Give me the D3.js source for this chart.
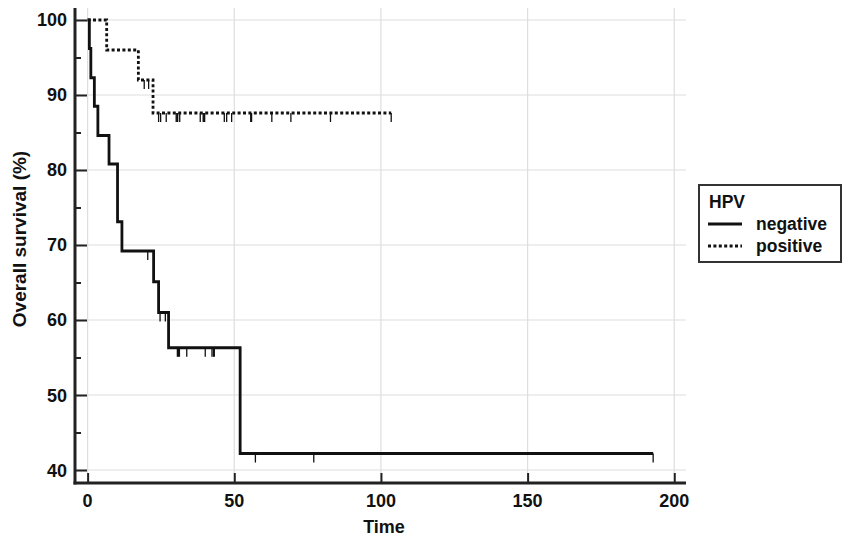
<!DOCTYPE html>
<html>
<head>
<meta charset="utf-8">
<script src="https://cdn.jsdelivr.net/npm/d3@7"></script>
<style>
  body { margin: 0; background: #fff; }
  text { font-family: "Liberation Sans", Arial, sans-serif; font-weight: bold; fill: #111; }
</style>
</head>
<body>
<div id="chart"></div>
<script>
// Kaplan-Meier steps
var negTimes = [0, 0.6, 1.1, 2.3, 3.5, 7.3, 10.2, 11.7, 22.5, 24.2, 27.6, 52.0];
var negSurv  = [100, 96.2, 92.3, 88.5, 84.6, 80.8, 73.1, 69.2, 65.1, 61.0, 56.3, 42.2];
var negEnd = 192.8;
var negCensor = [20.5, 24.7, 26.5, 30.6, 31.0, 31.3, 33.8, 40.1, 42.4, 42.9, 43.2, 57.2, 77.1, 192.8];

var posTimes = [0, 6.5, 17.3, 22.3];
var posSurv  = [100, 96.0, 92.0, 87.6];
var posEnd = 103.5;
var posCensor = [19.3, 20.8, 24.2, 24.9, 26.8, 30.2, 30.5, 30.7, 31.4, 38.4, 39.4, 39.6, 39.9,
                 46.6, 47.4, 49.1, 55.6, 55.9, 62.8, 69.3, 82.8, 103.5];

var xTicks = [0, 50, 100, 150, 200];
var yTicks = [40, 50, 60, 70, 80, 90, 100];
var yMinor = [45, 55, 65, 75, 85, 95];

var groups = ["negative", "positive"];

var W = 844, H = 536;
var svg = d3.select("#chart").append("svg").attr("width", W).attr("height", H);

var x = d3.scaleLinear().domain([-4.3, 204]).range([75, 686]);
var y = d3.scaleLinear().domain([38.27, 101.6]).range([483, 8]);

// grid
svg.append("g").selectAll("line").data(xTicks).enter().append("line")
    .attr("x1", d => x(d)).attr("x2", d => x(d))
    .attr("y1", y.range()[1]).attr("y2", y.range()[0])
    .attr("stroke", "#dedede").attr("stroke-width", 1.2);
svg.append("g").selectAll("line").data(yTicks).enter().append("line")
    .attr("x1", x.range()[0]).attr("x2", x.range()[1])
    .attr("y1", d => y(d)).attr("y2", d => y(d))
    .attr("stroke", "#dedede").attr("stroke-width", 1.2);

// axes (ticks drawn inward)
var yAxis = svg.append("g").attr("transform", "translate(" + x.range()[0] + ",0)")
    .call(d3.axisRight(y).tickValues(yTicks).tickSize(12).tickFormat(""));
var yAxisMinor = svg.append("g").attr("transform", "translate(" + x.range()[0] + ",0)")
    .call(d3.axisRight(y).tickValues(yMinor).tickSize(6).tickFormat(""));
var xAxis = svg.append("g").attr("transform", "translate(0," + y.range()[0] + ")")
    .call(d3.axisTop(x).tickValues(xTicks).tickSize(10).tickFormat(""));
[yAxis, yAxisMinor, xAxis].forEach(g => {
    g.select(".domain").remove();
    g.selectAll(".tick line").attr("stroke", "#222").attr("stroke-width", 2);
});
svg.append("line").attr("x1", x.range()[0]).attr("x2", x.range()[0])
    .attr("y1", y.range()[1]).attr("y2", y.range()[0] + 1.5)
    .attr("stroke", "#222").attr("stroke-width", 3);
svg.append("line").attr("x1", x.range()[0] - 1.5).attr("x2", x.range()[1])
    .attr("y1", y.range()[0]).attr("y2", y.range()[0])
    .attr("stroke", "#222").attr("stroke-width", 3);

// tick labels
svg.append("g").selectAll("text").data(yTicks).enter().append("text")
    .attr("x", 67).attr("y", d => y(d)).attr("dy", "0.36em")
    .attr("text-anchor", "end").attr("font-size", 18).text(d => d);
svg.append("g").selectAll("text").data(xTicks).enter().append("text")
    .attr("x", d => x(d)).attr("y", 506.5)
    .attr("text-anchor", "middle").attr("font-size", 18).text(d => d);

svg.append("text").attr("x", 384).attr("y", 533).attr("text-anchor", "middle")
    .attr("font-size", 18).text("Time");
svg.append("text").attr("transform", "translate(25.5,239) rotate(-90)")
    .attr("text-anchor", "middle").attr("font-size", 19).text("Overall survival (%)");

// curves
function stepPoints(times, surv, end) {
    var pts = times.map((t, i) => [t, surv[i]]);
    pts.push([end, surv[surv.length - 1]]);
    return pts;
}
function levelAt(times, surv, t) {
    var i = d3.bisectRight(times, t) - 1;
    return surv[Math.max(0, i)];
}
var line = d3.line().x(d => x(d[0])).y(d => y(d[1])).curve(d3.curveStepAfter);

var series = [
    { name: groups[0], times: negTimes, surv: negSurv, end: negEnd, censor: negCensor, dash: null },
    { name: groups[1], times: posTimes, surv: posSurv, end: posEnd, censor: posCensor, dash: "3,2.4" }
];

series.forEach(s => {
    svg.append("path").datum(stepPoints(s.times, s.surv, s.end))
        .attr("d", line).attr("fill", "none").attr("stroke", "#111")
        .attr("stroke-width", 2.8).attr("stroke-dasharray", s.dash);
    svg.append("g").selectAll("line").data(s.censor).enter().append("line")
        .attr("x1", d => x(d)).attr("x2", d => x(d))
        .attr("y1", d => y(levelAt(s.times, s.surv, d)))
        .attr("y2", d => y(levelAt(s.times, s.surv, d)) + 9)
        .attr("stroke", "#111").attr("stroke-width", 1.3);
});

// legend
var lg = svg.append("g");
lg.append("rect").attr("x", 699).attr("y", 185).attr("width", 142).attr("height", 77)
    .attr("fill", "#fff").attr("stroke", "#333").attr("stroke-width", 2);
lg.append("text").attr("x", 709).attr("y", 207.5).attr("font-size", 17.5).text("HPV");
series.forEach((s, i) => {
    var ly = 224 + i * 22;
    lg.append("line").attr("x1", 708).attr("x2", 742).attr("y1", ly).attr("y2", ly)
        .attr("stroke", "#111").attr("stroke-width", 2.8).attr("stroke-dasharray", s.dash);
    lg.append("text").attr("x", 756).attr("y", ly + 6).attr("font-size", 17.5).text(s.name);
});
</script>
</body>
</html>
